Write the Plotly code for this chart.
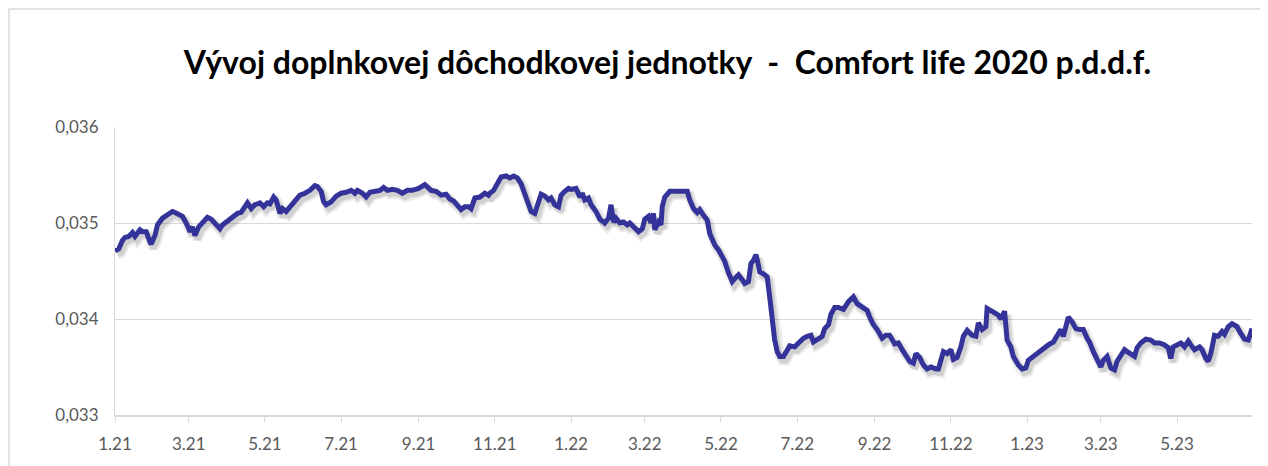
import pandas as pd
import plotly.graph_objects as go

# ---- data ----
start_date = "2021-01-01"
day_offsets = [
    0, 3, 6, 8, 11, 14, 16, 20, 22, 25, 28, 29, 32, 34, 38, 42, 46, 48, 52, 54,
    57, 60, 62, 64, 67, 70, 74, 77, 80, 84, 86, 90, 94, 98, 101, 104, 106, 109, 112, 116,
    119, 122, 124, 127, 129, 132, 134, 137, 140, 144, 146, 148, 152, 156, 160, 162, 165, 167, 169, 173,
    177, 181, 185, 189, 192, 194, 198, 201, 204, 208, 212, 215, 218, 222, 226, 230, 234, 238, 243, 248,
    251, 253, 257, 261, 265, 268, 271, 275, 277, 280, 283, 285, 288, 292, 296, 299, 300, 303, 306, 309,
    313, 316, 319, 322, 325, 328, 331, 333, 336, 339, 341, 344, 347, 349, 352, 355, 357, 360, 363, 365,
    369, 372, 374, 376, 379, 381, 385, 388, 392, 395, 397, 399, 401, 404, 407, 410, 412, 415, 419, 422,
    424, 427, 429, 431, 432, 435, 437, 438, 440, 444, 447, 451, 455, 458, 460, 463, 466, 468, 471, 474,
    476, 478, 480, 483, 486, 488, 491, 494, 496, 499, 502, 504, 507, 509, 511, 513, 515, 516, 519, 522,
    524, 526, 528, 530, 532, 535, 538, 540, 544, 547, 551, 554, 557, 559, 562, 566, 568, 571, 573, 576,
    579, 583, 587, 591, 594, 598, 602, 604, 607, 610, 614, 617, 620, 624, 627, 630, 633, 636, 639, 641,
    644, 647, 650, 653, 657, 659, 661, 663, 666, 669, 671, 674, 677, 679, 682, 686, 689, 691, 694, 697,
    698, 701, 704, 707, 709, 712, 714, 717, 719, 723, 726, 729, 731, 735, 739, 743, 747, 751, 754, 757,
    759, 761, 763, 766, 769, 772, 775, 778, 780, 783, 786, 789, 791, 794, 797, 800, 802, 805, 808, 810,
    813, 816, 818, 821, 825, 829, 832, 836, 840, 843, 845, 847, 850, 853, 856, 859, 861, 864, 868, 870,
    873, 875, 877, 880, 883, 886, 888, 891, 894, 898, 901, 904, 907, 908, 910,
]
unit_values = [
    0.03471, 0.03473, 0.03482, 0.03485, 0.03486, 0.03490, 0.03486, 0.03493, 0.03491, 0.03491,
    0.03480, 0.03478, 0.03487, 0.03498, 0.03505, 0.03509, 0.03512, 0.03511, 0.03508, 0.03507,
    0.03500, 0.03491, 0.03496, 0.03487, 0.03496, 0.03501, 0.03506, 0.03504, 0.03500, 0.03494,
    0.03498, 0.03502, 0.03506, 0.03510, 0.03511, 0.03517, 0.03521, 0.03515, 0.03519, 0.03521,
    0.03517, 0.03521, 0.03520, 0.03527, 0.03524, 0.03510, 0.03515, 0.03512, 0.03517, 0.03524,
    0.03527, 0.03529, 0.03531, 0.03534, 0.03539, 0.03538, 0.03533, 0.03522, 0.03519, 0.03522,
    0.03528, 0.03531, 0.03532, 0.03534, 0.03531, 0.03534, 0.03531, 0.03527, 0.03532, 0.03533,
    0.03534, 0.03537, 0.03534, 0.03535, 0.03534, 0.03531, 0.03534, 0.03534, 0.03536, 0.03540,
    0.03537, 0.03534, 0.03533, 0.03529, 0.03530, 0.03525, 0.03523, 0.03517, 0.03514, 0.03517,
    0.03517, 0.03515, 0.03526, 0.03527, 0.03531, 0.03529, 0.03531, 0.03534, 0.03541, 0.03548,
    0.03549, 0.03547, 0.03549, 0.03547, 0.03541, 0.03531, 0.03522, 0.03512, 0.03510, 0.03521,
    0.03530, 0.03528, 0.03524, 0.03526, 0.03519, 0.03517, 0.03529, 0.03533, 0.03536, 0.03535,
    0.03536, 0.03527, 0.03531, 0.03524, 0.03526, 0.03519, 0.03512, 0.03504, 0.03500, 0.03505,
    0.03519, 0.03501, 0.03505, 0.03500, 0.03501, 0.03498, 0.03500, 0.03496, 0.03491, 0.03494,
    0.03504, 0.03507, 0.03500, 0.03510, 0.03493, 0.03501, 0.03498, 0.03517, 0.03527, 0.03533,
    0.03533, 0.03534, 0.03534, 0.03533, 0.03524, 0.03515, 0.03511, 0.03514, 0.03508, 0.03503,
    0.03489, 0.03482, 0.03477, 0.03472, 0.03465, 0.03460, 0.03448, 0.03439, 0.03442, 0.03446,
    0.03441, 0.03437, 0.03439, 0.03458, 0.03461, 0.03467, 0.03456, 0.03449, 0.03447, 0.03444,
    0.03423, 0.03399, 0.03378, 0.03366, 0.03361, 0.03361, 0.03368, 0.03372, 0.03371, 0.03375,
    0.03380, 0.03382, 0.03383, 0.03376, 0.03378, 0.03382, 0.03390, 0.03394, 0.03405, 0.03412,
    0.03412, 0.03410, 0.03418, 0.03423, 0.03416, 0.03412, 0.03409, 0.03402, 0.03394, 0.03389,
    0.03380, 0.03383, 0.03383, 0.03374, 0.03375, 0.03368, 0.03363, 0.03356, 0.03354, 0.03364,
    0.03360, 0.03352, 0.03348, 0.03350, 0.03348, 0.03348, 0.03357, 0.03366, 0.03364, 0.03368,
    0.03358, 0.03360, 0.03371, 0.03382, 0.03388, 0.03383, 0.03382, 0.03396, 0.03389, 0.03392,
    0.03411, 0.03409, 0.03406, 0.03404, 0.03400, 0.03408, 0.03378, 0.03371, 0.03361, 0.03352,
    0.03348, 0.03349, 0.03357, 0.03361, 0.03366, 0.03370, 0.03373, 0.03376, 0.03383, 0.03389,
    0.03382, 0.03394, 0.03402, 0.03397, 0.03390, 0.03389, 0.03389, 0.03380, 0.03376, 0.03366,
    0.03359, 0.03350, 0.03357, 0.03361, 0.03349, 0.03347, 0.03356, 0.03362, 0.03368, 0.03366,
    0.03364, 0.03361, 0.03370, 0.03375, 0.03379, 0.03378, 0.03375, 0.03375, 0.03373, 0.03370,
    0.03359, 0.03371, 0.03373, 0.03375, 0.03371, 0.03377, 0.03373, 0.03368, 0.03371, 0.03368,
    0.03359, 0.03356, 0.03364, 0.03383, 0.03382, 0.03387, 0.03384, 0.03392, 0.03395, 0.03392,
    0.03385, 0.03379, 0.03378, 0.03384, 0.03390,
]

x_tick_dates = ["2021-01-01", "2021-03-01", "2021-05-01", "2021-07-01", "2021-09-01",
                "2021-11-01", "2022-01-01", "2022-03-01", "2022-05-01", "2022-07-01",
                "2022-09-01", "2022-11-01", "2023-01-01", "2023-03-01", "2023-05-01"]
x_tick_labels = ["1.21", "3.21", "5.21", "7.21", "9.21", "11.21", "1.22", "3.22",
                 "5.22", "7.22", "9.22", "11.22", "1.23", "3.23", "5.23"]
y_tick_values = [0.033, 0.034, 0.035, 0.036]
y_tick_labels = ["0,033", "0,034", "0,035", "0,036"]

title_text = "Vývoj doplnkovej dôchodkovej jednotky  -  Comfort life 2020 p.d.d.f."

# ---- build ----
dates = pd.to_datetime(start_date) + pd.to_timedelta(day_offsets, unit="D")

fig = go.Figure()
# soft drop shadow (same data, slightly shifted)
fig.add_trace(go.Scatter(
    x=dates + pd.Timedelta(days=2), y=[v - 0.00004 for v in unit_values],
    mode="lines", line=dict(color="rgba(90,90,90,0.12)", width=10),
    hoverinfo="skip", showlegend=False))
fig.add_trace(go.Scatter(
    x=dates + pd.Timedelta(days=2), y=[v - 0.00004 for v in unit_values],
    mode="lines", line=dict(color="rgba(90,90,90,0.18)", width=6),
    hoverinfo="skip", showlegend=False))
fig.add_trace(go.Scatter(
    x=dates, y=unit_values, mode="lines",
    line=dict(color="#333399", width=5), showlegend=False))

grid_col = "#d9d9d9"
font_fam = "Lato, Noto Sans, sans-serif"
fig.update_layout(
    width=1260, height=458,
    margin=dict(l=107, r=16, t=119, b=51),
    paper_bgcolor="white", plot_bgcolor="white",
    title=dict(text="<b>" + title_text + "</b>", xref="container", yref="container",
               x=0.5234, y=0.88, xanchor="center", yanchor="middle",
               font=dict(family=font_fam, size=32, color="#000000")),
    xaxis=dict(type="date", range=["2021-01-01", "2023-06-30"],
               tickvals=x_tick_dates, ticktext=x_tick_labels,
               showgrid=False, showline=True, linecolor=grid_col, linewidth=1.5,
               ticks="outside", ticklen=5, tickcolor=grid_col,
               ticklabelstandoff=8,
               tickfont=dict(family=font_fam, size=17, color="#595959"),
               zeroline=False),
    yaxis=dict(range=[0.033, 0.036], tickvals=y_tick_values, ticktext=y_tick_labels,
               showgrid=True, gridcolor=grid_col, gridwidth=1,
               showline=True, linecolor=grid_col, linewidth=1,
               ticklabelstandoff=12,
               tickfont=dict(family=font_fam, size=17, color="#595959"),
               ticks="", zeroline=False),
    shapes=[dict(type="rect", xref="paper", yref="paper",
                 x0=-0.0932, x1=1.0088, y0=-0.3, y1=1.4097,
                 line=dict(color="#d9d9d9", width=1.5), fillcolor="rgba(0,0,0,0)",
                 layer="below")],
)

fig.write_html("out.html")
